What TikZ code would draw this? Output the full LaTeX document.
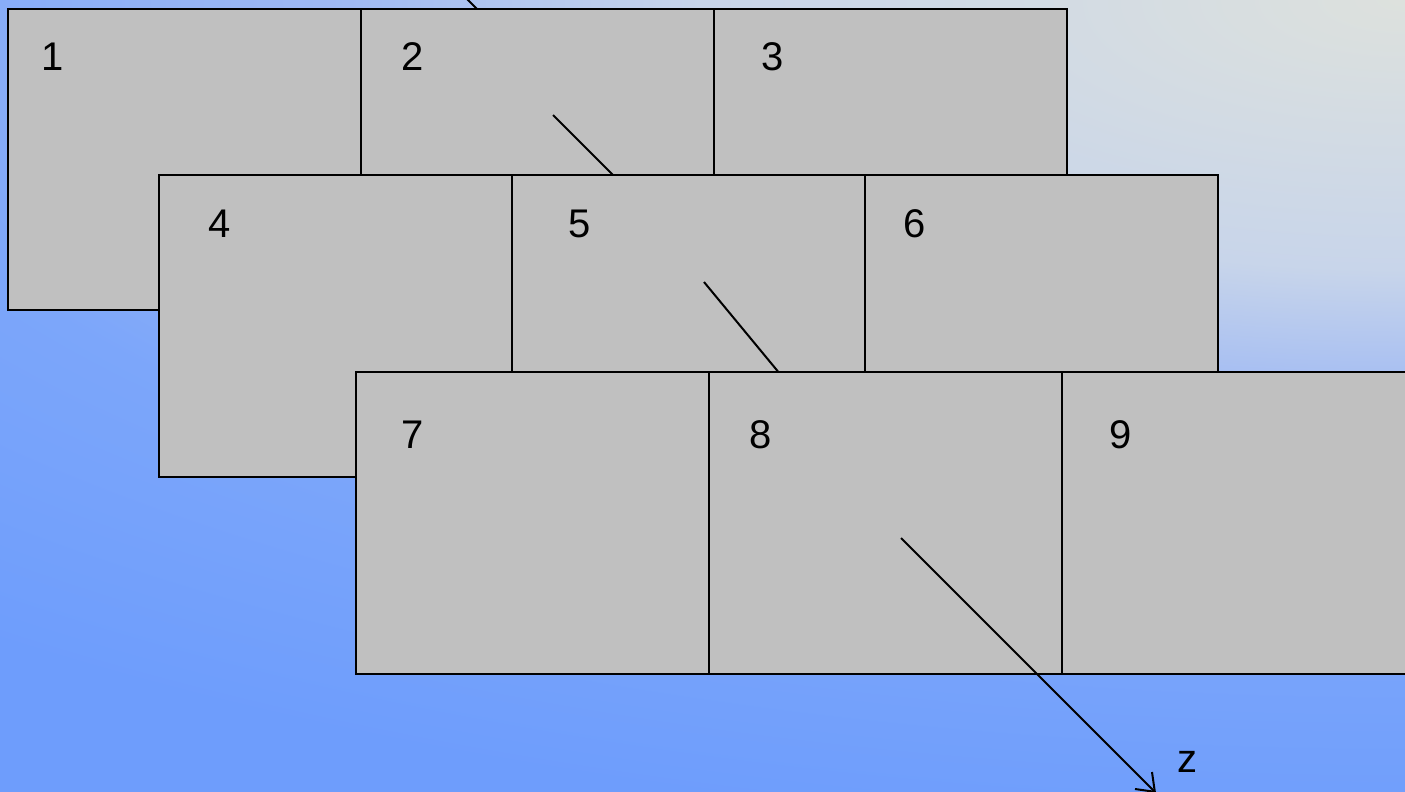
\documentclass[tikz,border=0pt]{standalone}
\usepackage{fontspec}
\setmainfont{Liberation Sans}
\usepackage{tikz}
\usetikzlibrary{arrows.meta,calc,positioning}

\definecolor{bgblue}{HTML}{6E9DFC}
\definecolor{bglight}{HTML}{DDE1DD}
\definecolor{bgmidA}{HTML}{C8D5EA}
\definecolor{bgmidB}{HTML}{A0BAF4}
\definecolor{bgmidC}{HTML}{7CA6FA}
\definecolor{cellgray}{HTML}{C0C0C0}
\pgfdeclareradialshading{bgglow}{\pgfpoint{0bp}{0bp}}{color(0bp)=(bglight); color(8bp)=(bgmidA); color(12bp)=(bgmidB); color(18bp)=(bgmidC); color(25bp)=(bgblue); color(50bp)=(bgblue)}

\tikzset{
  cell/.style={draw, line width=1pt, fill=cellgray, anchor=north west, outer sep=0pt,
    minimum width=176.5pt, minimum height=151pt, inner sep=0pt},
  num/.style={inner sep=0pt, font=\fontsize{20}{24}\selectfont},
  axis/.style={line width=1pt}
}

\begin{document}
\begin{tikzpicture}[x=0.5pt, y=-0.5pt]
  % Background
  \clip (0,0) rectangle (1405,792);
  \fill[bgblue] (0,0) rectangle (1405,792);
  \shade[shading=bgglow] (1405,0) ellipse [x radius=1100pt, y radius=420pt];

  % Axis, back part
  \coordinate (z0) at (462,-6);
  \coordinate (z1) at (482,14);
  \draw[axis] (z0) -- (z1);

  % Row 1
  \node[cell, minimum height=150.5pt] (c1) at (8,9) {};
  \node[cell, minimum height=150.5pt] (c2) at (361,9) {};
  \node[cell, minimum height=150.5pt] (c3) at (714,9) {};
  \node[num] (n1) at (53,57) {1};
  \node[num] (n2) at (413,57) {2};
  \node[num] (n3) at (773,57) {3};

  \coordinate (z2) at (553,115);
  \coordinate (z3) at (620,182);
  \draw[axis] (z2) -- (z3);

  % Row 2
  \node[cell] (c4) at (159,175) {};
  \node[cell] (c5) at (512,175) {};
  \node[cell] (c6) at (865,175) {};
  \node[num] (n4) at (220,224) {4};
  \node[num] (n5) at (580,224) {5};
  \node[num] (n6) at (915,224) {6};

  \coordinate (z4) at (704,282);
  \coordinate (z5) at (785,380);
  \draw[axis] (z4) -- (z5);

  % Row 3
  \node[cell] (c7) at (356,372) {};
  \node[cell] (c8) at (709,372) {};
  \node[cell] (c9) at (1062,372) {};
  \node[num] (n7) at (413,435) {7};
  \node[num] (n8) at (761,435) {8};
  \node[num] (n9) at (1121,435) {9};

  % Axis, front part
  \coordinate (z6) at (901,538);
  \coordinate (z7) at (1156,793);
  \draw[axis, -{Straight Barb[length=8pt, width=12pt, line width=1pt]}] (z6) -- (z7);
  \node[num] (zl) at (1187,762) {z};
\end{tikzpicture}
\end{document}
